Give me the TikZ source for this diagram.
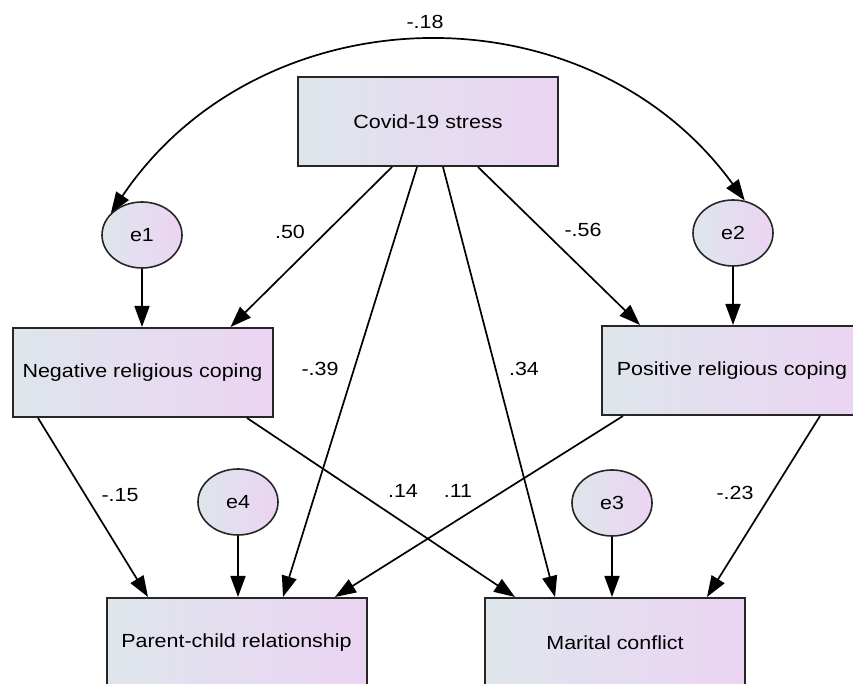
\documentclass[tikz,border=0pt]{standalone}
\usepackage{fontspec}
\setmainfont{Liberation Sans}[FakeStretch=1.13]
\usetikzlibrary{arrows.meta}
\usetikzlibrary{shapes.geometric}
\definecolor{amosl}{RGB}{222,230,235}
\definecolor{amosr}{RGB}{235,212,243}
\begin{document}
\begin{tikzpicture}
[x=1pt,y=1pt,>={Triangle[length=21pt,width=15pt]},line width=1.7pt,
 var/.style={draw=black!85,line width=2pt,left color=amosl,right color=amosr,
   minimum width=260pt,minimum height=89pt,inner sep=0pt},
 err/.style={ellipse,draw=black!85,line width=1.6pt,left color=amosl,right color=amosr,
   minimum width=80pt,minimum height=66pt,inner sep=0pt},
 coef/.style={inner sep=1pt}]
\fontsize{19}{22}\selectfont
\clip (0,0) rectangle (853,684);
\node[var] (covid) at (428,562.5) {Covid-19 stress};
\node[var] (neg) at (142.5,311.5) {Negative religious coping};
\node[var] (pos) at (732,313.5) {Positive religious coping};
\node[var] (parent) at (236.5,41.5) {Parent-child relationship};
\node[var] (marital) at (615,41.5) {Marital conflict};
\node[err] (e1) at (142,449) {e1};
\node[err] (e2) at (733,451) {e2};
\node[err] (e4) at (238,182) {e4};
\node[err] (e3) at (612,181) {e3};

\draw[<->] (e1.145) to[out=56,in=126,looseness=1.08] (e2.70);
\draw[->] (e1.south) -- (e1.south |- neg.north);
\draw[->] (e2.south) -- (e2.south |- pos.north);
\draw[->] (e4.south) -- (e4.south |- parent.north);
\draw[->] (e3.south) -- (e3.south |- marital.north);
\draw[->] ([xshift=-36pt]covid.south) -- ([xshift=88pt]neg.north);
\draw[->] ([xshift=-11pt]covid.south) -- ([xshift=46.5pt]parent.north);
\draw[->] ([xshift=15pt]covid.south) -- ([xshift=-60pt]marital.north);
\draw[->] ([xshift=50pt]covid.south) -- ([xshift=-92pt]pos.north);
\draw[->] ([xshift=-104.5pt]neg.south) -- ([xshift=-88.5pt]parent.north);
\draw[->] ([xshift=104.5pt]neg.south) -- ([xshift=-100pt]marital.north);
\draw[->] ([xshift=-109pt]pos.south) -- ([xshift=98.5pt]parent.north);
\draw[->] ([xshift=88pt]pos.south) -- ([xshift=92pt]marital.north);

\node[coef] (c18) at (425,662) {-.18};
\node[coef] (c50) at (290,452) {.50};
\node[coef] (c56) at (583,454) {-.56};
\node[coef] (c39) at (320,315) {-.39};
\node[coef] (c34) at (524,315) {.34};
\node[coef] (c15) at (120,189) {-.15};
\node[coef] (c14) at (403,193) {.14};
\node[coef] (c11) at (458,193) {.11};
\node[coef] (c23) at (735,191) {-.23};
\end{tikzpicture}
\end{document}
